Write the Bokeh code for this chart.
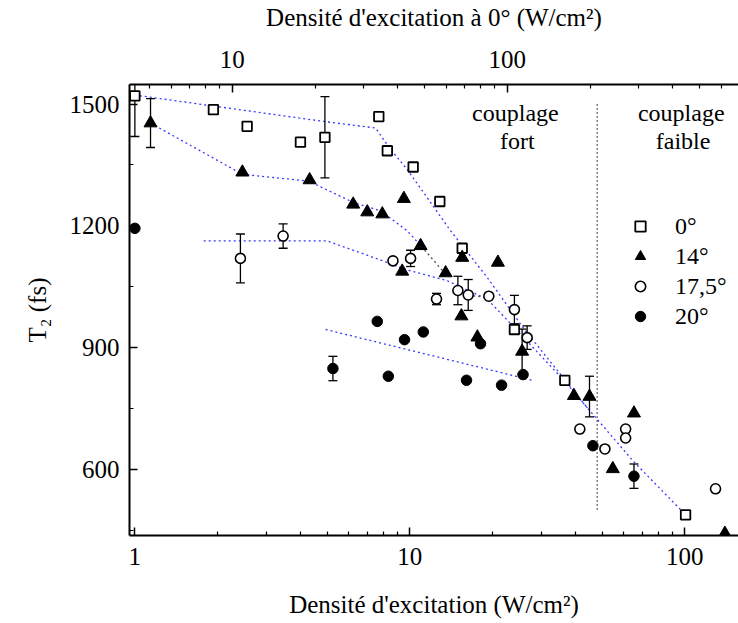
from bokeh.plotting import figure
from bokeh.models import (LogAxis, Range1d, LogScale, FixedTicker, NumeralTickFormatter,
                          Label, Legend, LegendItem)
from bokeh.embed import file_html
from bokeh.resources import INLINE

# ---------------- data ----------------
x_0deg = [1.0, 1.93, 2.56, 4.0, 4.91, 7.71, 8.28, 10.28, 12.85, 15.5, 24.0, 36.6, 100.6]
y_0deg = [1520, 1486, 1445, 1406, 1418, 1469, 1385, 1345, 1260, 1145, 945, 820, 489]

x_14deg = [1.14, 2.46, 4.32, 6.22, 7.0, 7.94, 9.51, 9.38, 10.94, 13.49, 15.5, 20.9,
           15.4, 17.6, 25.6, 39.5, 45.0, 54.7, 65.3, 139.8]
y_14deg = [1453, 1332, 1313, 1253, 1234, 1229, 1267, 1088, 1151, 1084, 1122, 1110,
           978, 926, 891, 782, 780, 602, 739, 443]

x_17deg = [2.42, 3.46, 8.68, 10.06, 12.5, 14.95, 16.3, 19.37, 24.0, 26.7, 41.5, 51.2, 60.9, 60.9, 129.3]
y_17deg = [1120, 1175, 1114, 1120, 1020, 1041, 1030, 1027, 994, 925, 700, 651, 700, 678, 553]

x_20deg = [1.0, 5.25, 7.61, 8.35, 9.56, 11.19, 16.07, 18.07, 21.55, 25.8, 46.3, 65.3]
y_20deg = [1194, 849, 965, 830, 920, 939, 820, 910, 808, 834, 659, 584]

# error bars (x, y, half-height)
err_x = [1.0, 4.91, 1.14, 25.6, 45.0, 2.42, 3.46, 10.06, 12.5, 14.95, 16.3, 24.0, 26.7, 5.25, 65.3]
err_y = [1520, 1418, 1453, 891, 780, 1120, 1175, 1120, 1020, 1041, 1030, 994, 925, 849, 584]
err_d = [100, 100, 60, 55, 50, 60, 30, 20, 14, 35, 38, 35, 29, 30, 30]

# dotted guide lines
fit0_x = [1.0, 4.87, 7.5, 8.51, 9.78, 14.06, 19.12, 25.9, 44.2, 65.1, 100.6]
fit0_y = [1522, 1457, 1441, 1388, 1339, 1188, 1073, 948, 752, 620, 489]
fit14_x = [1.14, 2.46, 4.29, 6.26, 7.83, 9.78, 11.0]
fit14_y = [1453, 1327, 1310, 1257, 1237, 1188, 1150]
fit17_x = [1.78, 5.0, 7.83, 9.51, 13.68, 17.8, 19.1, 23.9, 36.3, 44.2]
fit17_y = [1163, 1163, 1116, 1094, 1065, 1029, 1020, 951, 820, 752]
fit20_x = [4.94, 27.9]
fit20_y = [945, 820]
gray_xs = [[11.0, 13.3], [16.3, 18.2]]
gray_ys = [[1150, 1086], [1029, 1026]]

boundary_x = 48.0
boundary_y = [502, 1502]

legend_labels = ["0°", "14°", "17,5°", "20°"]
x_ticks = [1, 10, 100]
top_ticks = [10, 100]
y_ticks = [600, 900, 1200, 1500]
y_minor = [450, 750, 1050, 1350]
TOP_FACTOR = 4.425   # density at 0° / density
X_RANGE = (0.956, 156.7)
Y_RANGE = (438, 1548)

FONT = "Liberation Serif"
BLUE = "#3a3aff"

p = figure(width=738, height=620, x_axis_type="log",
           x_range=Range1d(*X_RANGE), y_range=Range1d(*Y_RANGE),
           output_backend="svg", toolbar_location=None,
           min_border_left=129, min_border_right=0, min_border_top=83, min_border_bottom=84)
p.grid.visible = False
p.outline_line_color = None
p.background_fill_color = "white"

p.extra_x_ranges = {"top": Range1d(X_RANGE[0] * TOP_FACTOR, X_RANGE[1] * TOP_FACTOR)}
p.extra_x_scales = {"top": LogScale()}
top_axis = LogAxis(x_range_name="top")
p.add_layout(top_axis, "above")

minor_log = [m * 10 ** e for e in range(0, 3) for m in range(2, 10)]

def style_axis(ax):
    ax.axis_line_width = 2
    ax.axis_line_color = "black"
    ax.major_tick_in = 8
    ax.major_tick_out = 0
    ax.minor_tick_in = 4
    ax.minor_tick_out = 0
    ax.major_tick_line_width = 1.5
    ax.minor_tick_line_width = 1.2
    ax.major_label_text_font = FONT
    ax.major_label_text_font_size = "25px"
    ax.major_label_text_color = "black"
    ax.axis_label_text_font = FONT
    ax.axis_label_text_font_size = "25px"
    ax.axis_label_text_font_style = "normal"
    ax.axis_label_text_color = "black"

xb = p.below[0]
xb.ticker = FixedTicker(ticks=x_ticks, minor_ticks=minor_log)
xb.formatter = NumeralTickFormatter(format="0")
style_axis(xb)
xb.major_label_standoff = 12
xb.axis_label = "Densité d'excitation (W/cm²)"
xb.axis_label_standoff = 23

top_axis.ticker = FixedTicker(ticks=top_ticks, minor_ticks=minor_log)
top_axis.formatter = NumeralTickFormatter(format="0")
style_axis(top_axis)
top_axis.major_label_standoff = 17
top_axis.axis_label = "Densité d'excitation à 0° (W/cm²)"
top_axis.axis_label_standoff = 17

yl = p.left[0]
yl.ticker = FixedTicker(ticks=y_ticks, minor_ticks=y_minor)
style_axis(yl)
yl.major_label_standoff = 10
yl.axis_label = "T₂ (fs)"
yl.axis_label_standoff = 16

# guide lines
for fx, fy in [(fit0_x, fit0_y), (fit14_x, fit14_y), (fit17_x, fit17_y), (fit20_x, fit20_y)]:
    p.line(fx, fy, line_color=BLUE, line_width=1.3, line_dash="2 3")
p.multi_line(gray_xs, gray_ys, line_color="#555555", line_width=1.3, line_dash="2 3")
p.line([boundary_x, boundary_x], boundary_y, line_color="black", line_width=1.5, line_dash="1 3")

# error bars
lo = [y - d for y, d in zip(err_y, err_d)]
hi = [y + d for y, d in zip(err_y, err_d)]
p.segment(x0=err_x, y0=lo, x1=err_x, y1=hi, line_color="black", line_width=1.3)
p.scatter(err_x + err_x, lo + hi, marker="dash", size=9, line_color="black", line_width=1.3)

# series
r0 = p.scatter(x_0deg, y_0deg, marker="square", size=9.5, fill_color="white",
               line_color="black", line_width=1.8)
r14 = p.scatter(x_14deg, y_14deg, marker="triangle", size=13, fill_color="black",
                line_color="black", line_width=1)
r17 = p.scatter(x_17deg, y_17deg, marker="circle", size=10, fill_color="white",
                line_color="black", line_width=1.6)
r20 = p.scatter(x_20deg, y_20deg, marker="circle", size=10.5, fill_color="black",
                line_color="black", line_width=1)

legend = Legend(items=[LegendItem(label=l, renderers=[r]) for l, r in
                       zip(legend_labels, [r0, r14, r17, r20])],
                location=(498, 204), padding=0, margin=0, spacing=0,
                glyph_width=26, glyph_height=30, label_height=30, label_standoff=22,
                label_text_font=FONT, label_text_font_size="24px",
                label_text_color="black",
                border_line_color=None, background_fill_alpha=0)
p.add_layout(legend, "center")

# region annotations
for txt, xx, yy in [("couplage", 24.2, 1479), ("fort", 24.6, 1410),
                    ("couplage", 97.0, 1479), ("faible", 98.5, 1410)]:
    p.add_layout(Label(x=xx, y=yy, text=txt, text_align="center", text_baseline="alphabetic",
                       text_font=FONT, text_font_size="24px", text_color="black"))

open("out.html", "w").write(file_html(p, INLINE))
